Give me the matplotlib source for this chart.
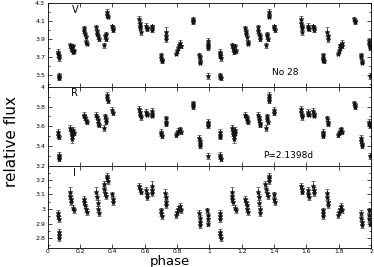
import numpy as np
import matplotlib
matplotlib.use("Agg")
import matplotlib.pyplot as plt
from matplotlib.ticker import MultipleLocator, FuncFormatter

# phased light curve, phase 0-1 (plotted twice: phase and phase+1)
v_phase = [0.063, 0.065, 0.067, 0.069, 0.066, 0.068, 0.070,
           0.140, 0.145, 0.150, 0.155, 0.158, 0.162,
           0.222, 0.225, 0.228, 0.235, 0.238, 0.240,
           0.300, 0.303, 0.306, 0.310, 0.315,
           0.348, 0.355, 0.358, 0.360, 0.366, 0.368, 0.370,
           0.400, 0.402, 0.404,
           0.565, 0.568, 0.570, 0.573, 0.575,
           0.610, 0.612, 0.614, 0.643, 0.645, 0.647,
           0.700, 0.702, 0.704, 0.706, 0.730, 0.732, 0.734,
           0.795, 0.800, 0.805, 0.810, 0.818, 0.822,
           0.896, 0.898, 0.900, 0.938, 0.940, 0.942, 0.944,
           0.988, 0.990, 0.992, 0.994, 0.991]
v_flux = [3.76, 3.73, 3.71, 3.69, 3.50, 3.48, 3.47,
          3.83, 3.80, 3.78, 3.76, 3.82, 3.77,
          4.02, 3.99, 3.96, 3.92, 3.87, 3.85,
          4.03, 3.99, 3.96, 3.93, 3.90,
          3.83, 3.93, 3.96, 3.90, 4.20, 4.17, 4.15,
          4.04, 4.02, 4.00,
          4.12, 4.08, 4.05, 4.02, 3.98,
          4.05, 4.02, 4.01, 4.04, 4.02, 4.00,
          3.72, 3.69, 3.67, 3.66, 3.98, 3.93, 3.90,
          3.74, 3.77, 3.80, 3.83, 3.86, 3.82,
          4.12, 4.10, 4.09, 3.72, 3.70, 3.66, 3.64,
          3.88, 3.85, 3.82, 3.80, 3.49]
v_err = [0.03, 0.03, 0.02, 0.03, 0.03, 0.02, 0.02,
         0.03, 0.03, 0.02, 0.02, 0.03, 0.02,
         0.03, 0.02, 0.02, 0.03, 0.02, 0.02,
         0.03, 0.02, 0.02, 0.03, 0.02,
         0.03, 0.03, 0.02, 0.02, 0.03, 0.02, 0.02,
         0.02, 0.02, 0.02,
         0.04, 0.03, 0.02, 0.02, 0.03,
         0.03, 0.02, 0.02, 0.02, 0.02, 0.02,
         0.03, 0.02, 0.02, 0.02, 0.05, 0.03, 0.03,
         0.02, 0.02, 0.02, 0.02, 0.03, 0.02,
         0.02, 0.02, 0.02, 0.03, 0.02, 0.02, 0.02,
         0.03, 0.02, 0.02, 0.02, 0.03]

r_phase = [0.063, 0.065, 0.067, 0.066, 0.068, 0.070,
           0.140, 0.144, 0.148, 0.152, 0.156, 0.160, 0.150,
           0.222, 0.226, 0.230, 0.235, 0.240,
           0.300, 0.304, 0.308, 0.312, 0.316,
           0.348, 0.355, 0.358, 0.360, 0.366, 0.368, 0.370,
           0.400, 0.402,
           0.565, 0.568, 0.571, 0.575,
           0.610, 0.612, 0.614, 0.643, 0.645, 0.647,
           0.700, 0.702, 0.704, 0.730, 0.732, 0.734,
           0.795, 0.802, 0.808, 0.815, 0.822,
           0.896, 0.898, 0.900, 0.938, 0.940, 0.942, 0.944,
           0.988, 0.990, 0.992, 0.991]
r_flux = [3.54, 3.51, 3.49, 3.31, 3.29, 3.27,
          3.58, 3.55, 3.52, 3.50, 3.56, 3.53, 3.47,
          3.72, 3.70, 3.68, 3.66, 3.64,
          3.72, 3.69, 3.66, 3.63, 3.61,
          3.58, 3.70, 3.67, 3.64, 3.92, 3.89, 3.86,
          3.77, 3.74,
          3.78, 3.75, 3.72, 3.69,
          3.75, 3.73, 3.72, 3.76, 3.73, 3.71,
          3.54, 3.52, 3.50, 3.68, 3.64, 3.62,
          3.51, 3.53, 3.55, 3.57, 3.54,
          3.84, 3.82, 3.80, 3.48, 3.45, 3.42, 3.40,
          3.64, 3.62, 3.60, 3.30]
r_err = [0.03, 0.03, 0.02, 0.03, 0.02, 0.02,
         0.03, 0.03, 0.02, 0.02, 0.03, 0.02, 0.04,
         0.03, 0.02, 0.02, 0.03, 0.02,
         0.03, 0.02, 0.02, 0.03, 0.02,
         0.03, 0.03, 0.02, 0.02, 0.03, 0.02, 0.02,
         0.03, 0.02,
         0.03, 0.03, 0.02, 0.03,
         0.03, 0.02, 0.02, 0.03, 0.02, 0.02,
         0.03, 0.02, 0.02, 0.03, 0.03, 0.02,
         0.02, 0.02, 0.03, 0.02, 0.02,
         0.02, 0.02, 0.02, 0.03, 0.02, 0.02, 0.02,
         0.03, 0.02, 0.02, 0.03]

i_phase = [0.063, 0.065, 0.067, 0.066, 0.068, 0.070,
           0.138, 0.140, 0.142, 0.144, 0.158, 0.162,
           0.222, 0.226, 0.230, 0.235, 0.240,
           0.300, 0.304, 0.308, 0.312, 0.316,
           0.345, 0.350, 0.355, 0.360, 0.366, 0.368, 0.370,
           0.400, 0.402, 0.404,
           0.565, 0.570, 0.575,
           0.610, 0.612, 0.614, 0.643, 0.645, 0.647,
           0.700, 0.702, 0.704, 0.728, 0.730, 0.732, 0.734,
           0.795, 0.802, 0.808, 0.815, 0.822,
           0.938, 0.940, 0.942, 0.944,
           0.986, 0.988, 0.990, 0.992]
i_flux = [2.97, 2.95, 2.93, 2.84, 2.82, 2.80,
          3.12, 3.09, 3.07, 3.05, 3.01, 2.99,
          3.07, 3.05, 3.03, 3.00, 2.98,
          3.12, 3.08, 3.04, 3.00, 2.97,
          3.17, 3.14, 3.11, 3.09, 3.23, 3.21, 3.19,
          3.10, 3.07, 3.05,
          3.16, 3.14, 3.12,
          3.13, 3.10, 3.08, 3.16, 3.13, 3.11,
          2.99, 2.97, 2.95, 3.11, 3.08, 3.05, 3.03,
          2.96, 2.98, 3.00, 3.02, 2.99,
          2.97, 2.94, 2.91, 2.89,
          2.99, 2.96, 2.93, 2.90]
i_err = [0.02, 0.02, 0.02, 0.02, 0.02, 0.02,
         0.03, 0.02, 0.02, 0.02, 0.02, 0.02,
         0.02, 0.02, 0.02, 0.02, 0.02,
         0.03, 0.02, 0.02, 0.02, 0.02,
         0.02, 0.02, 0.02, 0.02, 0.02, 0.02, 0.02,
         0.02, 0.02, 0.02,
         0.02, 0.02, 0.02,
         0.02, 0.02, 0.02, 0.03, 0.02, 0.02,
         0.02, 0.02, 0.02, 0.03, 0.02, 0.02, 0.02,
         0.02, 0.02, 0.02, 0.02, 0.02,
         0.02, 0.02, 0.02, 0.02,
         0.02, 0.02, 0.02, 0.02]

bands = [("V", v_phase, v_flux, v_err, (3.37, 4.30), [3.5, 3.7, 3.9, 4.1, 4.3], 0.1),
         ("R", r_phase, r_flux, r_err, (3.195, 4.00), [3.2, 3.4, 3.6, 3.8, 4.0], 0.1),
         ("I", i_phase, i_flux, i_err, (2.73, 3.295), [2.8, 2.9, 3.0, 3.1, 3.2], 0.05)]

# panel positions in figure fraction (left, bottom, width, height)
boxes = [(0.128, 0.674, 0.864, 0.315),
         (0.128, 0.378, 0.864, 0.296),
         (0.128, 0.070, 0.864, 0.308)]

fmt = FuncFormatter(lambda v, p: "%g" % round(v, 2))

fig = plt.figure(figsize=(3.74, 2.67), dpi=100)
axes = []
for (name, ph, fl, er, ylim, yt, minor), box in zip(bands, boxes):
    ax = fig.add_axes(box)
    ph = np.array(ph)
    for shift in (0.0, 1.0):
        ax.errorbar(ph + shift, fl, yerr=er, fmt="*", color="#111111",
                    ecolor="#444444", markersize=3.5, elinewidth=0.6,
                    capsize=1.6, capthick=0.6, markeredgewidth=0.5)
    ax.set_xlim(0, 2)
    ax.set_ylim(*ylim)
    ax.xaxis.set_major_locator(MultipleLocator(0.2))
    ax.set_yticks(yt)
    ax.yaxis.set_minor_locator(MultipleLocator(minor))
    ax.yaxis.set_major_formatter(fmt)
    ax.xaxis.set_major_formatter(fmt)
    ax.tick_params(which="both", direction="in", top=True, right=True,
                   labelsize=4.5, width=0.5, pad=2)
    ax.tick_params(axis="x", pad=0.8, labelsize=4.3)
    ax.tick_params(which="major", length=3)
    ax.tick_params(which="minor", length=1.5)
    for s in ax.spines.values():
        s.set_linewidth(0.6)
    ax.text(0.167, ylim[1] - 0.08 * (ylim[1] - ylim[0]), name,
            fontsize=7, ha="center", va="center")
    axes.append(ax)

for ax in axes[:2]:
    ax.tick_params(labelbottom=False)

axes[0].text(1.39, 3.53, "No 28", fontsize=6.5, va="center")
axes[1].text(1.33, 3.30, "P=2.1398d", fontsize=6.5, va="center")

fig.text(0.455, -0.005, "phase", fontsize=9.5, ha="center", va="bottom")
fig.text(0.032, 0.47, "relative flux", fontsize=11, rotation=90,
         ha="center", va="center")

fig.savefig("out.png", dpi=100)
